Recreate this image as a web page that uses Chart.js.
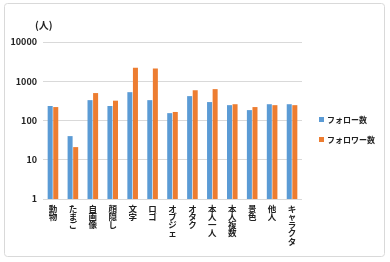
<!DOCTYPE html>
<html>
<head>
<meta charset="utf-8">
<script src="https://cdn.jsdelivr.net/npm/chart.js@4/dist/chart.umd.min.js"></script>
<style>
  body { margin: 0; background: #fff; }
</style>
</head>
<body>
<canvas id="chart" width="390" height="262"></canvas>
<script>
const categories = ["動物", "たまご", "自画像", "顔隠し", "文字", "ロゴ", "オブジェ", "オタク", "本人一人", "本人複数", "景色", "他人", "キャラクタ"];
const followValues = [234, 40, 330, 234, 527, 330, 154, 418, 295, 246, 184, 260, 260];
const followerValues = [220, 21, 500, 320, 2200, 2100, 165, 590, 630, 260, 220, 246, 246];
const yTicks = [1, 10, 100, 1000, 10000];
const seriesNames = ["フォロー数", "フォロワー数"];

const FONT = "'Noto Sans CJK JP', 'Noto Sans', sans-serif";

// draws the frame, the unit label and the legend
const extras = {
  id: "extras",
  beforeDraw(chart) {
    const ctx = chart.ctx;
    ctx.save();
    ctx.strokeStyle = "#d9d9d9";
    ctx.lineWidth = 1;
    ctx.beginPath();
    ctx.roundRect(4.5, 3.5, 380, 253, 3);
    ctx.stroke();
    ctx.restore();
  },
  afterDraw(chart) {
    const ctx = chart.ctx;
    ctx.save();
    ctx.fillStyle = "#222";
    ctx.font = "bold 10px " + FONT;
    ctx.textBaseline = "middle";
    ctx.fillText("(人)", 35, 25);

    ctx.font = "bold 8px " + FONT;
    chart.data.datasets.forEach((ds, i) => {
      const y = 119 + i * 20;
      ctx.fillStyle = ds.backgroundColor;
      ctx.fillRect(319, y - 2, 5, 5);
      ctx.fillStyle = "#222";
      ctx.fillText(ds.label, 327, y + 1);
    });
    ctx.restore();
  }
};

new Chart(document.getElementById("chart").getContext("2d"), {
  type: "bar",
  data: {
    labels: categories.map(c => c.split("")),
    datasets: [{
      label: seriesNames[0],
      data: followValues,
      backgroundColor: "#5B9BD5",
      categoryPercentage: 0.56,
      barPercentage: 0.9
    }, {
      label: seriesNames[1],
      data: followerValues,
      backgroundColor: "#ED7D31",
      categoryPercentage: 0.56,
      barPercentage: 0.9
    }]
  },
  options: {
    responsive: false,
    animation: false,
    layout: { padding: { left: 5, right: 88, top: 42, bottom: 5 } },
    plugins: {
      legend: { display: false },
      tooltip: { enabled: false }
    },
    scales: {
      x: {
        grid: { display: false, drawTicks: false },
        border: { display: false },
        ticks: {
          padding: 6,
          maxRotation: 0,
          autoSkip: false,
          color: "#222",
          font: { family: FONT, size: 8.5, weight: "bold", lineHeight: 0.95 }
        },
        afterFit(s) { s.height = 58; }
      },
      y: {
        type: "logarithmic",
        min: 1,
        max: 10000,
        afterBuildTicks(s) { s.ticks = yTicks.map(v => ({ value: v })); },
        grid: { color: "#d9d9d9", drawTicks: false },
        border: { display: false },
        ticks: {
          padding: 6,
          color: "#222",
          font: { family: FONT, size: 9, weight: "bold" },
          callback: v => String(v)
        },
        afterFit(s) { s.width = 38; }
      }
    }
  },
  plugins: [extras]
});
</script>
</body>
</html>
